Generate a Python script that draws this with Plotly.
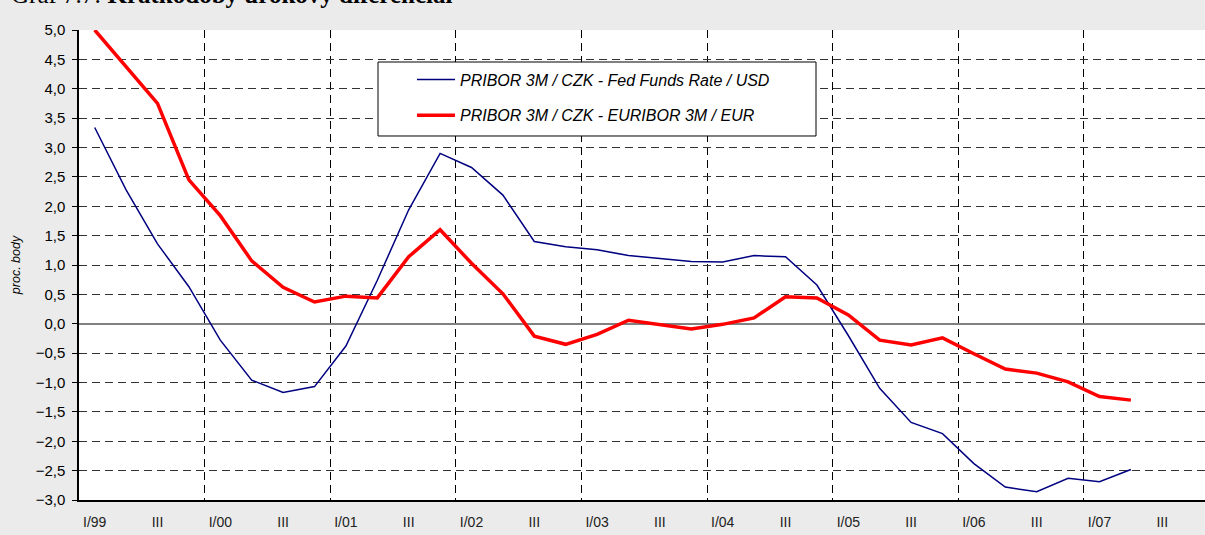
import plotly.graph_objects as go

# ---- data ----
years = ["99", "00", "01", "02", "03", "04", "05", "06", "07"]
quarters = [f"{q}/{y}" for y in years for q in ["I", "II", "III", "IV"]]
tick_labels = []
for y in years:
    tick_labels += [f"I/{y}", "III"]

usd_diff = [3.34, 2.28, 1.36, 0.63,
            -0.28, -0.96, -1.17, -1.07,
            -0.38, 0.74, 1.94, 2.90,
            2.66, 2.19, 1.40, 1.31,
            1.26, 1.16, 1.11, 1.06,
            1.05, 1.16, 1.14, 0.66,
            -0.20, -1.10, -1.68, -1.87,
            -2.38, -2.78, -2.86, -2.63,
            -2.69, -2.48]
eur_diff = [5.00, 4.38, 3.75, 2.45,
            1.84, 1.07, 0.62, 0.37,
            0.47, 0.44, 1.14, 1.60,
            1.03, 0.51, -0.21, -0.35,
            -0.18, 0.06, -0.01, -0.09,
            -0.01, 0.10, 0.46, 0.44,
            0.15, -0.28, -0.36, -0.24,
            -0.51, -0.77, -0.84, -0.99,
            -1.24, -1.30]

name_usd = "PRIBOR 3M / CZK - Fed Funds Rate / USD"
name_eur = "PRIBOR 3M / CZK - EURIBOR 3M / EUR"

x_usd = list(range(len(usd_diff)))
x_eur = list(range(len(eur_diff)))
tick_vals = list(range(0, len(quarters), 2))
year_bounds = [i - 0.5 for i in range(4, len(quarters), 4)]

W = 1215
PW = W - 79          # plot-area width in px
PX_PER_Q = 31.4      # px per quarter in the reference
x_max = -0.5 + PW / PX_PER_Q

def px(v):
    return (v - 79) / PW

fig = go.Figure()
fig.add_trace(go.Scatter(x=x_usd, y=usd_diff, mode="lines", name=f"<i>{name_usd}</i>",
                         line=dict(color="#000080", width=1.5), legendgroup="a"))
fig.add_trace(go.Scatter(x=x_eur, y=eur_diff, mode="lines", name=f"<i>{name_eur}</i>",
                         line=dict(color="#ff0000", width=3.5), legendgroup="b"))

fig.update_layout(
    width=W, height=535,
    margin=dict(l=79, r=0, t=30, b=35),
    paper_bgcolor="#ebebeb",
    plot_bgcolor="#ffffff",
    separators=", ",
    font=dict(family="Liberation Sans, Arial, sans-serif", color="#000000"),
    showlegend=True,
    legend=dict(
        x=px(412), y=0.9309, xanchor="left", yanchor="top",
        bgcolor="rgba(0,0,0,0)", borderwidth=0,
        font=dict(size=16, color="#000000"),
        traceorder="grouped", tracegroupgap=12, itemwidth=38,
    ),
    xaxis=dict(
        range=[-0.5, x_max],
        tickmode="array", tickvals=tick_vals, ticktext=tick_labels,
        showgrid=False, zeroline=False,
        showline=True, linecolor="#000000", linewidth=1.5,
        ticks="", ticklabelstandoff=8,
        tickfont=dict(size=14, color="#222222"),
        minor=dict(tickmode="array", tickvals=year_bounds, showgrid=True,
                   gridcolor="#000000", gridwidth=1, griddash="8px,5px",
                   ticks=""),
    ),
    xaxis2=dict(overlaying="x", side="top", range=[-0.5, x_max], showticklabels=False,
                showgrid=False, zeroline=False, showline=True, linecolor="#000000",
                linewidth=1.5, ticks=""),
    yaxis=dict(
        range=[-3, 5], dtick=0.5, tick0=0, tickformat=".1f",
        showgrid=True, gridcolor="#333333", gridwidth=1, griddash="8px,5px",
        zeroline=True, zerolinecolor="#808080", zerolinewidth=2,
        showline=True, linecolor="#000000", linewidth=1.5,
        ticks="outside", ticklen=5, tickcolor="#000000", ticklabelstandoff=4,
        tickfont=dict(size=15, color="#000000"),
        title=dict(text="<i>proc. body</i>", font=dict(size=12.5, color="#000000"), standoff=12),
    ),
    shapes=[dict(type="rect", xref="paper", yref="paper",
                 x0=px(378), x1=px(816), y0=0.7745, y1=0.9319,
                 fillcolor="#ffffff", line=dict(color="#000000", width=1), layer="above")],
    annotations=[dict(
        text="Graf 7.7: <b>Krátkodobý úrokový diferenciál</b>",
        xref="paper", yref="paper", x=px(9), y=1 + 20/470,
        xanchor="left", yanchor="bottom", showarrow=False,
        font=dict(family="Liberation Serif, Times New Roman, serif", size=25, color="#000000"),
    )],
)

post = (
    "var s=document.createElement('style');"
    "s.textContent='::-webkit-scrollbar{display:none;width:0;height:0}"
    "html,body{margin:0;padding:0;overflow:hidden;scrollbar-width:none}';"
    "document.head.appendChild(s);"
)
fig.write_html("out.html", config={"displayModeBar": False}, post_script=post)
